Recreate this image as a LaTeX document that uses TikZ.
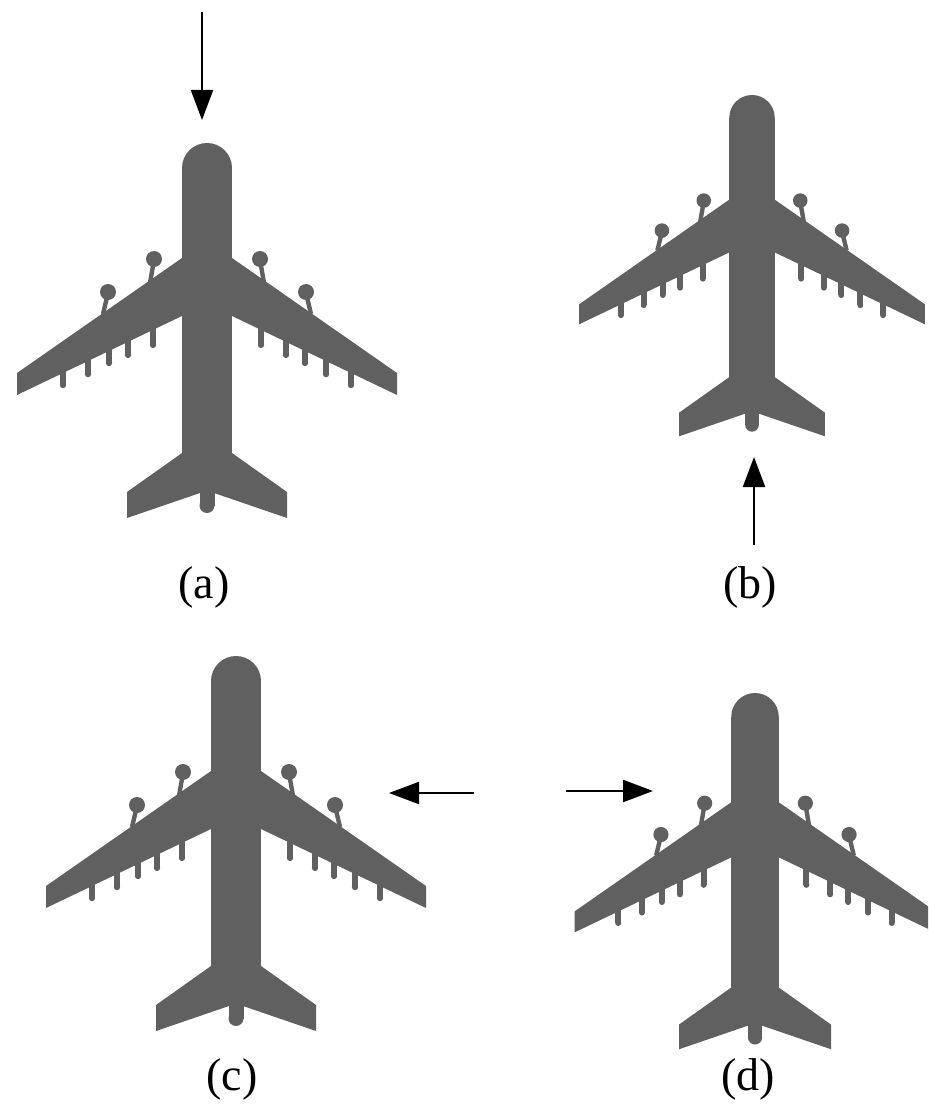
\documentclass[tikz,border=0pt]{standalone}
\usepackage{fontspec}
\setmainfont{Liberation Serif}
\usetikzlibrary{arrows.meta}
\definecolor{planegray}{RGB}{96,96,96}
\begin{document}
\begin{tikzpicture}[x=0.5pt,y=-0.5pt,
  flow/.style={line width=1.1pt,-{Triangle[length=15pt,width=11pt]}},
  caption/.style={font=\fontsize{23}{27}\selectfont,inner sep=0pt},
  % four-engine airliner seen from above; origin at the nose tip, y grows tailwards
  plane/.pic={
    \begin{scope}[planegray]
      % fuselage with rounded nose
      \fill (-25,25) rectangle (25,350);
      \fill (0,25) circle[radius=25];
      % tail cone
      \fill (-7.5,330) rectangle (7.5,362.5);
      \fill (0,362.5) circle[radius=7.5];
      \foreach \s in {-1,1}{
        % main wing
        \fill (0,98) -- ({\s*25},115) -- ({\s*190},230) -- ({\s*190},252)
              -- ({\s*25},173) -- (0,173) -- cycle;
        % horizontal stabiliser
        \fill (0,300) -- ({\s*25},310) -- ({\s*80},349) -- ({\s*80},375)
              -- (0,347.6) -- cycle;
        % engines on their pylons
        \draw[line width=2.2pt] ({\s*53},117) -- ({\s*57},140);
        \fill ({\s*53},116) circle[radius=8];
        \draw[line width=2.2pt] ({\s*99},150) -- ({\s*104},171);
        \fill ({\s*99},149) circle[radius=8];
        % flap track fairings under the trailing edge
        \foreach \d/\l in {54/15,79/13,98/12,119/13,144/12}{
          \fill ({\s*\d-3.2},{173+0.479*(\d-25)-3})
                rectangle ({\s*\d+3.2},{173+0.479*(\d-25)+\l});
          \fill ({\s*\d},{173+0.479*(\d-25)+\l}) circle[radius=3.2];
        }
      }
    \end{scope}
  }]
\path[use as bounding box] (0,0) rectangle (928,1107);
\clip (0,0) rectangle (928,1107);

% the four aircraft
\pic at (207,143) {plane};
\pic[scale=0.91] at (752,95) {plane};
\pic at (236,656) {plane};
\pic[scale=0.95] at (755,693) {plane};

% flow directions
\coordinate (a-from) at (202,12);
\coordinate (a-to) at (202,120);
\coordinate (b-from) at (754,545);
\coordinate (b-to) at (754,457);
\coordinate (c-from) at (474,793);
\coordinate (c-to) at (389,793);
\coordinate (d-from) at (566,791);
\coordinate (d-to) at (653,791);
\draw[flow] (a-from) -- (a-to);
\draw[flow] (b-from) -- (b-to);
\draw[flow] (c-from) -- (c-to);
\draw[flow] (d-from) -- (d-to);

% captions
\node[caption] (la) at (204,587) {(a)};
\node[caption] (lb) at (750,587) {(b)};
\node[caption] (lc) at (232,1079) {(c)};
\node[caption] (ld) at (748,1079) {(d)};
\end{tikzpicture}
\end{document}
